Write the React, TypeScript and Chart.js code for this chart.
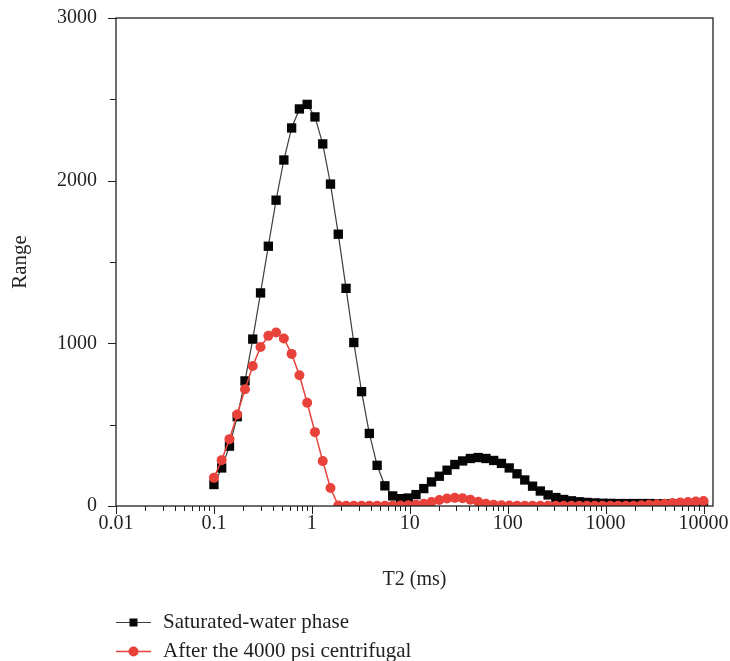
import React, { useEffect, useRef } from 'react';
import { Chart, registerables } from 'chart.js';

Chart.register(...registerables);

const t2Values = [
  0.1, 0.12, 0.1441, 0.173, 0.2077, 0.2493, 0.2993, 0.3594, 0.4314, 0.5179, 0.6218, 0.7465, 0.8962,
  1.076, 1.292, 1.551, 1.862, 2.235, 2.683, 3.221, 3.867, 4.642, 5.573, 6.691, 8.033, 9.644,
  11.58, 13.9, 16.68, 20.03, 24.04, 28.86, 34.65, 41.6, 49.94, 59.95, 71.97, 86.4,
  103.7, 124.5, 149.5, 179.5, 215.4, 258.6, 310.5, 372.8, 447.5, 537.3, 645, 774.3, 929.6,
  1116, 1340, 1608, 1931, 2318, 2783, 3341, 4011, 4815, 5781, 6940, 8332, 10000,
];

const saturatedWater = [
  132, 234, 368, 549, 769, 1026, 1310, 1597, 1880, 2127, 2324, 2441, 2469,
  2392, 2226, 1979, 1671, 1338, 1005, 703, 446, 250, 124, 62, 45, 49,
  70, 107, 148, 183, 220, 255, 277, 292, 298, 292, 280, 262,
  234, 198, 160, 122, 92, 68, 52, 40, 32, 26, 22, 19, 17,
  16, 15, 15, 15, 15, 15, 14, 13, 12, 11, 10, 9, 8,
];

const centrifugal = [
  173, 282, 411, 563, 718, 861, 977, 1046, 1067, 1030, 935, 804, 635,
  454, 276, 111, 3, 2, 2, 2, 2, 2, 2, 2, 3, 4,
  7, 14, 25, 37, 46, 50, 48, 39, 26, 14, 7, 4,
  3, 2, 2, 2, 2, 2, 2, 2, 2, 2, 2, 2, 2,
  2, 2, 2, 2, 4, 7, 10, 14, 18, 22, 25, 28, 30,
];

const seriesLabels = ['Saturated-water phase', 'After the 4000 psi centrifugal'];
const xMajorTicks = [0.01, 0.1, 1, 10, 100, 1000, 10000];
const xTickLabels = ['0.01', '0.1', '1', '10', '100', '1000', '10000'];
const yTickValues = [0, 1000, 2000, 3000];
const yTickLabels = ['0', '1000', '2000', '3000'];

const FONT = "'Liberation Serif', 'Times New Roman', serif";
const TEXT = '#231f20';

const framePlugin = {
  id: 'frame',
  afterDraw(chart: any) {
    const { ctx, chartArea } = chart;
    const xs = chart.scales.x;
    const ys = chart.scales.y;
    ctx.save();
    ctx.strokeStyle = TEXT;
    ctx.lineWidth = 1;
    xs.ticks.forEach((t: any) => {
      if (t.value < xs.min || t.value > xs.max) return;
      const px = Math.round(xs.getPixelForValue(t.value)) + 0.5;
      ctx.beginPath();
      ctx.moveTo(px, chartArea.bottom);
      ctx.lineTo(px, chartArea.bottom + (t.major ? 8 : 5));
      ctx.stroke();
    });
    ys.ticks.forEach((t: any) => {
      const py = Math.round(ys.getPixelForValue(t.value)) + 0.5;
      const major = yTickValues.indexOf(t.value) >= 0;
      ctx.beginPath();
      ctx.moveTo(chartArea.left, py);
      ctx.lineTo(chartArea.left - (major ? 8 : 6), py);
      ctx.stroke();
    });
    ctx.lineWidth = 1.3;
    ctx.strokeRect(chartArea.left, chartArea.top, chartArea.right - chartArea.left, chartArea.bottom - chartArea.top);
    const rows = [622, 651];
    chart.data.datasets.forEach((ds: any, i: number) => {
      const y = rows[i];
      ctx.strokeStyle = ds.borderColor;
      ctx.lineWidth = ds.borderWidth;
      ctx.beginPath();
      ctx.moveTo(116, y + 0.5);
      ctx.lineTo(151, y + 0.5);
      ctx.stroke();
      ctx.fillStyle = ds.pointBackgroundColor;
      if (ds.pointStyle === 'rect') {
        ctx.fillRect(129.5, y - 3.5, 8, 8);
      } else {
        ctx.beginPath();
        ctx.arc(133.5, y + 0.5, 5, 0, Math.PI * 2);
        ctx.fill();
      }
      ctx.fillStyle = TEXT;
      ctx.font = `21px ${FONT}`;
      ctx.textAlign = 'left';
      ctx.textBaseline = 'middle';
      ctx.fillText(ds.label, 163, y);
    });
    ctx.restore();
  },
};

export default function App() {
  const ref = useRef<HTMLCanvasElement | null>(null);

  useEffect(() => {
    if (!ref.current) return;
    const chart = new Chart(ref.current, {
      type: 'line',
      data: {
        datasets: [
          {
            label: seriesLabels[0],
            data: t2Values.map((x, i) => ({ x, y: saturatedWater[i] })),
            borderColor: '#3d3d3d',
            borderWidth: 1.2,
            pointStyle: 'rect',
            pointRadius: 6.6,
            pointBackgroundColor: '#050505',
            pointBorderWidth: 0,
            order: 2,
          },
          {
            label: seriesLabels[1],
            data: t2Values.map((x, i) => ({ x, y: centrifugal[i] })),
            borderColor: '#e8423b',
            borderWidth: 1.5,
            pointStyle: 'circle',
            pointRadius: 5,
            pointBackgroundColor: '#e8423b',
            pointBorderWidth: 0,
            order: 1,
          },
        ] as any,
      },
      options: {
        animation: false,
        responsive: false,
        devicePixelRatio: 1,
        layout: { padding: { top: 18, right: 17, left: 0, bottom: 65 } },
        font: { family: FONT, size: 20 },
        plugins: {
          legend: { display: false },
          tooltip: { enabled: false },
        },
        scales: {
          x: {
            type: 'logarithmic',
            min: 0.01,
            max: 12500,
            afterBuildTicks(scale: any) {
              const ticks: any[] = [];
              xMajorTicks.forEach((d) => {
                for (let m = 1; m <= 9; m++) {
                  const v = d * m;
                  if (v <= 12500) ticks.push({ value: v, major: m === 1 });
                }
              });
              scale.ticks = ticks;
            },
            afterFit(scale: any) {
              scale.height = 90;
              scale.paddingLeft = 0;
              scale.paddingRight = 0;
            },
            grid: { display: false, drawTicks: false },
            border: { display: false },
            ticks: {
              autoSkip: false,
              maxRotation: 0,
              padding: 6,
              color: TEXT,
              font: { family: FONT, size: 20 },
              callback(value: any) {
                const idx = xMajorTicks.findIndex((d) => Math.abs(d - value) < d * 1e-6);
                return idx >= 0 ? xTickLabels[idx] : '';
              },
            },
            title: {
              display: true,
              text: 'T2 (ms)',
              color: TEXT,
              font: { family: FONT, size: 20 },
              padding: { top: 0, bottom: 4 },
            },
          },
          y: {
            type: 'linear',
            min: 0,
            max: 3000,
            afterFit(scale: any) {
              scale.width = 116;
              scale.paddingTop = 0;
              scale.paddingBottom = 0;
            },
            grid: { display: false, drawTicks: false },
            border: { display: false },
            ticks: {
              stepSize: 500,
              padding: 19,
              color: TEXT,
              font: { family: FONT, size: 20 },
              callback(value: any) {
                const idx = yTickValues.indexOf(value);
                return idx >= 0 ? yTickLabels[idx] : '';
              },
            },
            title: {
              display: true,
              text: 'Range',
              color: TEXT,
              font: { family: FONT, size: 21 },
              padding: { top: 8, bottom: 0 },
            },
          },
        },
      } as any,
      plugins: [framePlugin],
    });
    return () => chart.destroy();
  }, []);

  return (
    <div style={{ position: 'absolute', left: 0, top: 0, width: 730, height: 661, overflow: 'hidden' }}>
      <canvas ref={ref} width={730} height={661} style={{ display: 'block', width: 730, height: 661 }} />
    </div>
  );
}
